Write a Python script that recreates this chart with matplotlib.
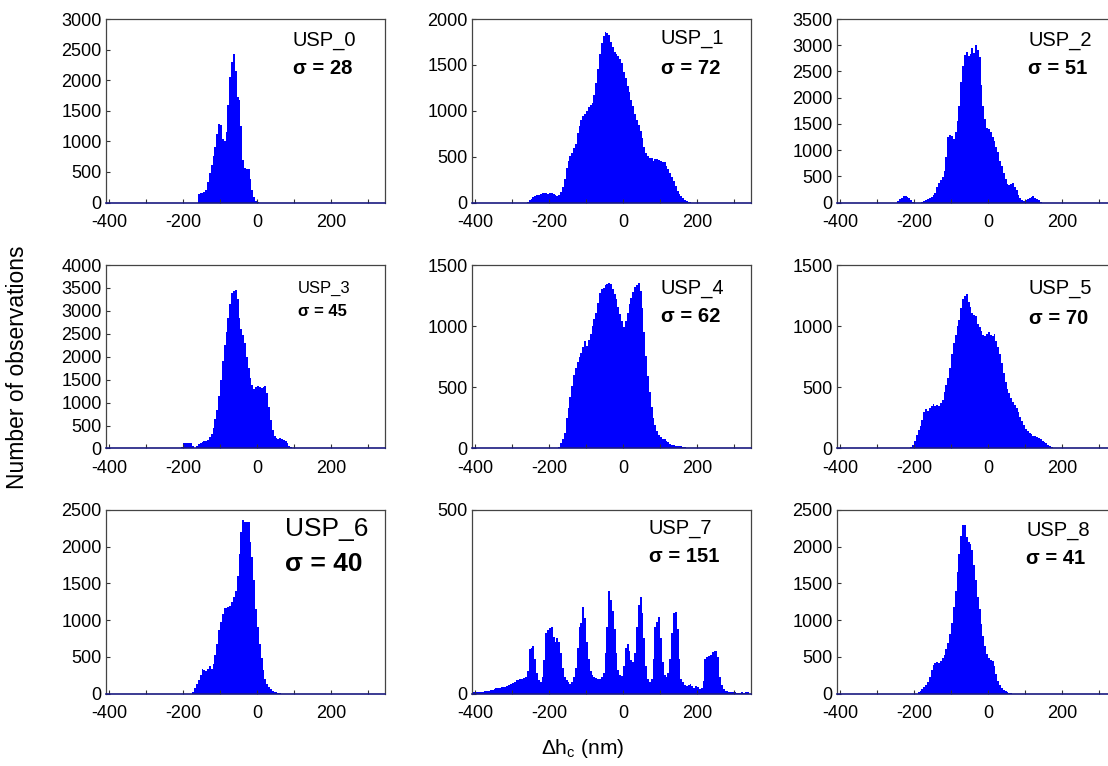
import numpy as np
import matplotlib
matplotlib.use("Agg")
import matplotlib.pyplot as plt

plt.rcParams['font.family'] = ['Liberation Sans', 'DejaVu Sans']
plt.rcParams['mathtext.fontset'] = 'custom'
plt.rcParams['mathtext.rm'] = 'Liberation Sans'
plt.rcParams['axes.unicode_minus'] = False

# bin width (nm) and first bin edge of every histogram
bin_width = 5
names = ['USP_0', 'USP_1', 'USP_2', 'USP_3', 'USP_4', 'USP_5', 'USP_6', 'USP_7', 'USP_8']
sigmas = [28, 72, 51, 45, 62, 70, 40, 151, 41]
y_tops = [3000, 2000, 3500, 4000, 1500, 1500, 2500, 500, 2500]
starts = [-160, -260, -245, -205, -175, -210, -175, -405, -190]

usp0 = [140, 150, 160, 175, 200, 330, 480, 620, 760, 900, 1120, 1290, 1260, 1030,
        1000, 1150, 1600, 2050, 2300, 2430, 2150, 1720, 1680, 1250, 700, 560, 550,
        540, 380, 200, 90, 30, 10]

usp1 = [10, 25, 40, 55, 70, 80, 85, 95, 100, 105, 100, 95, 105, 100, 95, 80, 75, 85,
        110, 170, 260, 380, 450, 510, 540, 590, 640, 760, 830, 900, 940, 970, 1000,
        1040, 1060, 1080, 1170, 1300, 1450, 1620, 1740, 1820, 1860, 1850, 1830, 1750,
        1700, 1640, 1620, 1600, 1560, 1520, 1420, 1360, 1270, 1200, 1120, 1050, 970,
        900, 850, 780, 700, 600, 540, 510, 490, 480, 455, 470, 475, 460, 455, 445,
        440, 400, 370, 320, 280, 230, 180, 130, 95, 70, 45, 30, 18, 10, 5]

usp2 = [20, 60, 95, 115, 120, 110, 80, 40, 15, 0, 0, 0, 0, 10, 30, 45, 65, 85, 100,
        140, 180, 300, 380, 420, 480, 600, 860, 1250, 1280, 1270, 1220, 1350, 1550,
        1850, 2300, 2600, 2820, 2870, 2800, 2830, 2950, 2850, 3000, 2900, 2780, 2250,
        1850, 1600, 1420, 1400, 1340, 1250, 1180, 1050, 960, 800, 700, 560, 450, 350,
        340, 360, 380, 300, 230, 140, 80, 40, 30, 45, 65, 90, 110, 115, 95, 60, 40, 15]

usp3 = [30, 110, 125, 130, 120, 125, 60, 20, 60, 100, 130, 150, 155, 160, 180, 240,
        320, 440, 650, 850, 1150, 1500, 1900, 2250, 2550, 2850, 3150, 3400, 3430, 3460,
        3250, 2850, 2600, 2480, 2300, 2000, 1750, 1540, 1380, 1300, 1330, 1370, 1350,
        1320, 1340, 1360, 1200, 900, 620, 400, 270, 230, 215, 220, 200, 190, 165, 110,
        60, 25, 10, 5]

usp4 = [15, 45, 80, 130, 250, 330, 420, 510, 600, 660, 710, 750, 780, 830, 880, 835,
        890, 940, 1000, 1060, 1110, 1190, 1270, 1300, 1310, 1335, 1345, 1350, 1345,
        1300, 1260, 1220, 1160, 1100, 1040, 990, 1040, 1110, 1180, 1230, 1280, 1320,
        1340, 1350, 1290, 1150, 950, 760, 590, 460, 340, 250, 190, 140, 110, 90, 80,
        75, 60, 50, 40, 30, 25, 22, 20, 22, 20, 15, 12, 8, 5, 3]

usp5 = [15, 30, 60, 110, 150, 185, 230, 300, 320, 310, 330, 345, 360, 350, 355, 345,
        370, 400, 460, 520, 580, 660, 770, 860, 930, 1000, 1050, 1150, 1220, 1250,
        1260, 1200, 1160, 1110, 1090, 1080, 1020, 990, 960, 930, 920, 935, 955, 930,
        920, 935, 880, 830, 770, 700, 620, 540, 490, 450, 415, 380, 355, 330, 300, 260,
        225, 190, 160, 140, 125, 115, 105, 100, 90, 85, 75, 65, 55, 42, 32, 22, 14, 7, 3]

usp6 = [20, 70, 130, 190, 250, 330, 320, 305, 340, 380, 330, 400, 520, 680, 860, 970,
        1080, 1160, 1170, 1180, 1190, 1240, 1310, 1400, 1600, 1900, 2200, 2370, 2340,
        2340, 2330, 2060, 1860, 1550, 1150, 900, 680, 480, 320, 200, 130, 85, 55, 35,
        22, 15, 10, 6]

usp7 = [3, 4, 3, 5, 4, 5, 6, 8, 7, 9, 10, 12, 14, 15, 16, 17, 18, 19, 21, 22, 25, 28,
        32, 36, 38, 39, 40, 42, 45, 60, 120, 125, 130, 95, 55, 38, 30, 45, 90, 165, 172,
        178, 182, 155, 140, 152, 140, 110, 70, 45, 38, 30, 26, 30, 45, 70, 125, 180,
        192, 235, 205, 140, 95, 60, 50, 45, 42, 40, 40, 44, 55, 110, 180, 280, 255, 225,
        175, 110, 65, 50, 48, 75, 125, 135, 115, 90, 85, 110, 180, 240, 262, 220, 150,
        75, 40, 30, 40, 95, 180, 195, 208, 150, 85, 50, 45, 55, 95, 165, 220, 222, 175,
        95, 40, 30, 24, 21, 22, 26, 20, 16, 20, 18, 12, 15, 35, 95, 100, 103, 105, 112,
        115, 117, 100, 45, 22, 12, 8, 6, 5, 4, 5, 3, 2, 2, 2, 3, 2, 4, 3]

usp8 = [15, 40, 65, 85, 110, 150, 230, 320, 390, 420, 430, 410, 440, 480, 530, 600,
        690, 810, 960, 1180, 1400, 1650, 1900, 2150, 2290, 2300, 2130, 2070, 2040, 1950,
        1750, 1550, 1320, 1150, 950, 780, 650, 540, 480, 460, 440, 380, 260, 170, 110,
        75, 50, 35, 22, 12, 5]

counts = [usp0, usp1, usp2, usp3, usp4, usp5, usp6, usp7, usp8]

# label placement (pixels in the 1108x766 picture): left x, centre y of name and sigma
label_x = [293, 661, 1028, 298, 661, 1029, 285, 649, 1026]
name_y = [40, 39, 41, 288, 289, 289, 529, 529, 531]
sig_y = [68, 68, 69, 311, 317, 318, 564, 557, 558]
label_size = [14.5, 14.5, 14.5, 12, 14.5, 14.5, 19, 14.5, 14.5]

W, H = 1108, 766
col_left = [105.7, 471.7, 836.7]
row_top = [19, 265, 510]
ax_w, ax_h = 279, 183.5

fig = plt.figure(figsize=(W / 100, H / 100), dpi=100)

for i in range(9):
    r, c = divmod(i, 3)
    ax = fig.add_axes([col_left[c] / W, 1 - (row_top[r] + ax_h) / H, ax_w / W, ax_h / H])
    vals = np.array(counts[i])
    edges = starts[i] + bin_width * np.arange(len(vals) + 1)
    ax.stairs(vals, edges, fill=True, color='#0000ff', linewidth=0)
    ax.set_xlim(-409, 345)
    ax.set_ylim(0, y_tops[i])
    ax.set_xticks([-400, -200, 0, 200])
    ax.set_xticks(np.arange(-300, 301, 200), minor=True)
    ax.set_yticks(np.arange(0, y_tops[i] + 1, 500))
    ax.tick_params(axis='both', which='both', direction='in', labelsize=13,
                   length=3, width=0.8, colors='#333333', labelcolor='black')
    ax.tick_params(axis='x', pad=8)
    ax.tick_params(axis='y', pad=3)
    for s in ['top', 'left', 'right']:
        ax.spines[s].set_color('#444444')
        ax.spines[s].set_linewidth(0.9)
    ax.spines['bottom'].set_color('#1a1a80')
    ax.spines['bottom'].set_linewidth(1.2)

    fig.text(label_x[i] / W, 1 - name_y[i] / H, names[i], fontsize=label_size[i],
             ha='left', va='center')
    fig.text(label_x[i] / W, 1 - sig_y[i] / H, 'σ = %d' % sigmas[i],
             fontsize=label_size[i], fontweight='bold', ha='left', va='center')

fig.text(18 / W, 1 - 367 / H, 'Number of observations', fontsize=16.5,
         rotation=90, ha='center', va='center')
fig.text(583 / W, 1 - 748 / H, 'Δh$_\\mathregular{c}$ (nm)', fontsize=15,
         ha='center', va='center')

fig.savefig('out.png', dpi=100)
